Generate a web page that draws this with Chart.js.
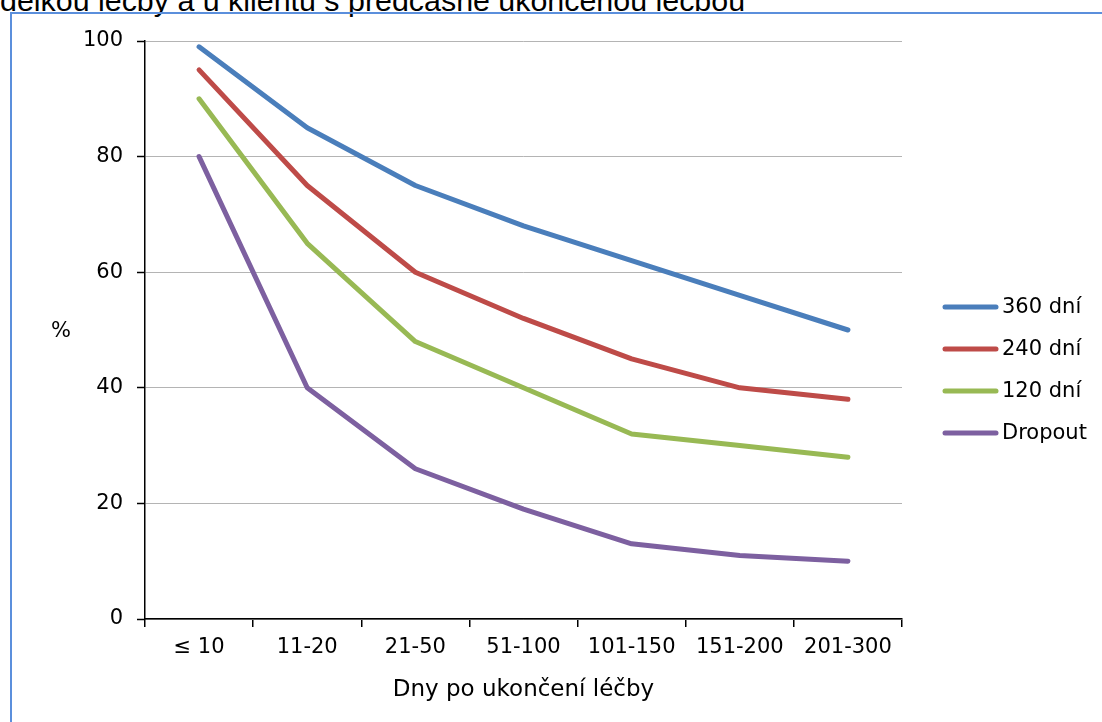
<!DOCTYPE html>
<html>
<head>
<meta charset="utf-8">
<script src="https://cdn.jsdelivr.net/npm/chart.js@4/dist/chart.umd.min.js"></script>
<style>
  html, body { margin: 0; padding: 0; background: #fff; overflow: hidden; }
  #title {
    position: absolute; left: 0; top: -15px; white-space: nowrap;
    font: 30.4px/30px "Liberation Sans", Arial, sans-serif; color: #000;
  }
  #frame {
    position: absolute; left: 10px; top: 12px; width: 1200px; height: 800px;
    border-left: 2px solid #5b8fdc; border-top: 2px solid #5b8fdc;
  }
  #wrap { position: absolute; left: 0; top: 0; width: 1102px; height: 722px; }
</style>
</head>
<body>
<div id="title">délkou léčby a u klientů s předčasně ukončenou léčbou</div>
<div id="frame"></div>
<div id="wrap"><canvas id="chart"></canvas></div>
<script>
const categories = ['≤ 10', '11-20', '21-50', '51-100', '101-150', '151-200', '201-300'];
const days360 = [99, 85, 75, 68, 62, 56, 50];
const days240 = [95, 75, 60, 52, 45, 40, 38];
const days120 = [90, 65, 48, 40, 32, 30, 28];
const dropout = [80, 40, 26, 19, 13, 11, 10];
const yTicks = [0, 20, 40, 60, 80, 100];

const FONT = '"DejaVu Sans", Verdana, sans-serif';

// legend + "%" label drawn by hand to match the layout
const sideLabels = {
  id: 'sideLabels',
  afterDraw(chart) {
    const ctx = chart.ctx;
    const area = chart.chartArea;
    ctx.save();
    ctx.fillStyle = '#000';
    ctx.textBaseline = 'middle';
    ctx.textAlign = 'center';
    ctx.font = '21px ' + FONT;
    ctx.fillText('%', 61, (area.top + area.bottom) / 2 + 2);
    ctx.textAlign = 'left';
    chart.data.datasets.forEach((ds, i) => {
      const y = 307 + i * 42;
      ctx.strokeStyle = ds.borderColor;
      ctx.lineWidth = 5;
      ctx.lineCap = 'round';
      ctx.beginPath();
      ctx.moveTo(945, y);
      ctx.lineTo(996, y);
      ctx.stroke();
      ctx.fillText(ds.label, 1002, y + 1);
    });
    ctx.restore();
  }
};

const mk = (label, data, color) => ({
  label, data,
  borderColor: color, backgroundColor: color,
  borderWidth: 5, pointRadius: 0, tension: 0,
  borderJoinStyle: 'round', borderCapStyle: 'round'
});

new Chart(document.getElementById('chart'), {
  type: 'line',
  data: {
    labels: categories,
    datasets: [
      mk('360 dní', days360, '#4a7ebb'),
      mk('240 dní', days240, '#be4b48'),
      mk('120 dní', days120, '#98b954'),
      mk('Dropout', dropout, '#7d60a0')
    ]
  },
  options: {
    responsive: true,
    maintainAspectRatio: false,
    animation: false,
    layout: { padding: { left: 0, top: 41, right: 200, bottom: 0 } },
    plugins: { legend: { display: false }, tooltip: { enabled: false } },
    scales: {
      x: {
        offset: true,
        afterFit: s => { s.height = 103; },
        grid: {
          offset: true,
          color: c => c.index === categories.length ? '#c8c8c8' : 'rgba(0,0,0,0)',
          lineWidth: 1.5,
          tickColor: '#000',
          tickLength: 8,
          tickWidth: 1.5
        },
        border: { color: '#000', width: 1.5 },
        ticks: { color: '#000', font: { family: FONT, size: 21 }, padding: 8, maxRotation: 0 },
        title: {
          display: true, text: 'Dny po ukončení léčby', color: '#000',
          font: { family: FONT, size: 23 }, padding: { top: 4, bottom: 18 }
        }
      },
      y: {
        min: 0, max: 100,
        afterFit: s => { s.width = 145; },
        afterBuildTicks: s => { s.ticks = yTicks.map(v => ({ value: v })); },
        grid: {
          color: '#b4b4b4',
          lineWidth: 1,
          borderDash: [1, 2],
          tickColor: '#000',
          tickBorderDash: [],
          tickLength: 8,
          tickWidth: 1.5
        },
        border: { color: '#000', width: 1.5 },
        ticks: { color: '#000', font: { family: FONT, size: 21 }, padding: 14 }
      }
    }
  },
  plugins: [sideLabels]
});
</script>
</body>
</html>
